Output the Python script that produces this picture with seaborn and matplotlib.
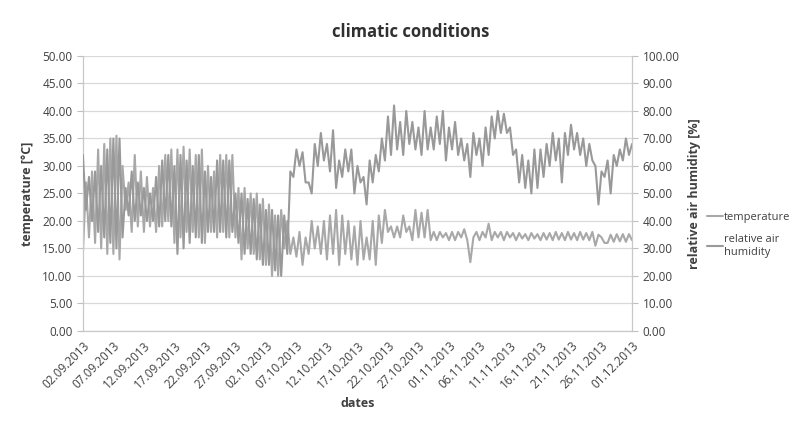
import numpy as np
import pandas as pd
import matplotlib
matplotlib.use('Agg')
import matplotlib.pyplot as plt
import seaborn as sns

# readings every 12 h, 02.09.2013 00:00 .. 01.12.2013 00:00 (night, day per row)
temperature = [
    14, 27, 17, 29, 16, 33, 15, 34, 14, 35, 14, 35.5, 13, 30, 22, 27, 18, 32, 19, 29,
    18, 28, 19, 26, 18, 30, 19, 32, 20, 33, 16, 33, 17, 33.5, 18, 33, 18, 32, 17, 33,
    16, 30, 18, 29, 17, 32, 18, 32, 17, 32, 17, 26, 13, 26, 15, 25, 14, 25, 13, 24,
    12, 23, 10, 21, 10, 22, 15, 20, 14, 17, 13.5, 18, 12, 17, 14, 20, 15, 19, 14, 20,
    13, 21, 14, 22, 12, 21, 14, 20, 13, 19, 12, 20, 13, 17, 13, 20, 12, 21, 16, 22,
    18, 19, 17, 19, 17, 21, 18, 19, 16.5, 22, 17, 21.5, 17, 22, 16.5, 18, 16.5, 18, 17, 17.8,
    16.5, 18, 16.5, 18, 17, 18.5, 16.5, 12.5, 17, 18, 16.5, 18, 17, 19.5, 16.5, 18, 17, 18, 16.5, 18,
    17, 17.8, 16.5, 17.8, 16.8, 17.6, 16.5, 17.8, 16.8, 17.6, 16.5, 17.8, 16.6, 17.8, 16.5, 18, 16.6, 17.8, 16.5, 18,
    16.6, 17.8, 16.5, 18, 16.6, 17.8, 16.5, 18, 15.5, 17.5, 17, 16, 16, 17.5, 16.2, 17.6, 16.3, 17.6, 16.2, 17.6,
    16.5,
]
humidity = [
    64, 44, 56, 40, 58, 36, 60, 34, 66, 32, 70, 30, 70, 34, 52, 42, 58, 40, 54, 42,
    52, 40, 50, 40, 56, 38, 62, 40, 64, 38, 60, 28, 64, 30, 62, 32, 60, 34, 64, 32,
    58, 36, 56, 36, 62, 36, 62, 34, 62, 36, 50, 32, 50, 28, 48, 28, 48, 26, 46, 24,
    44, 24, 44, 22, 42, 20, 42, 28, 58, 56, 66, 60, 65, 54, 54, 50, 68, 60, 72, 62,
    68, 58, 73, 52, 62, 56, 66, 58, 66, 50, 60, 54, 56, 46, 62, 54, 64, 58, 70, 62,
    78, 64, 82, 66, 76, 64, 80, 68, 76, 66, 74, 64, 80, 66, 74, 66, 78, 68, 80, 62,
    74, 66, 76, 64, 70, 62, 68, 56, 72, 64, 70, 60, 74, 64, 78, 70, 80, 72, 79, 72,
    74, 64, 66, 54, 64, 52, 62, 50, 66, 52, 66, 56, 68, 60, 72, 62, 70, 54, 72, 64,
    75, 66, 72, 64, 70, 60, 68, 62, 60, 46, 58, 56, 62, 50, 64, 60, 66, 62, 70, 64,
    68,
]
tick_labels = ['02.09.2013', '07.09.2013', '12.09.2013', '17.09.2013', '22.09.2013',
               '27.09.2013', '02.10.2013', '07.10.2013', '12.10.2013', '17.10.2013',
               '22.10.2013', '27.10.2013', '01.11.2013', '06.11.2013', '11.11.2013',
               '16.11.2013', '21.11.2013', '26.11.2013', '01.12.2013']

times = pd.date_range('2013-09-02', periods=len(temperature), freq='12h')
df = pd.DataFrame({'date': times, 'temperature': temperature, 'humidity': humidity})
ticks = pd.to_datetime(tick_labels, format='%d.%m.%Y')

sns.set_style('white')
plt.rcParams['font.family'] = ['Open Sans', 'DejaVu Sans']
txt = '#404040'

fig = plt.figure(figsize=(7.97, 4.21), dpi=100)
ax = fig.add_axes([0.104, 0.214, 0.689, 0.653])
ax2 = ax.twinx()

sns.lineplot(data=df, x='date', y='temperature', ax=ax, color='#a8a8a8', lw=1.5,
             label='temperature', legend=False)
sns.lineplot(data=df, x='date', y='humidity', ax=ax2, color='#999999', lw=1.5,
             label='relative air\nhumidity', legend=False)

ax.set_xlim(ticks[0], ticks[-1])
ax.set_ylim(0, 50)
ax2.set_ylim(0, 100)
ax.set_yticks(np.arange(0, 51, 5))
ax2.set_yticks(np.arange(0, 101, 10))
ax.set_yticklabels([f'{v:.2f}' for v in np.arange(0, 51, 5)])
ax2.set_yticklabels([f'{v:.2f}' for v in np.arange(0, 101, 10)])
ax.set_xticks(ticks)
ax.set_xticklabels(tick_labels, rotation=45, ha='right', rotation_mode='anchor')

ax.grid(axis='y', color='#d9d9d9', lw=0.9)
ax.set_axisbelow(True)
for a in (ax, ax2):
    for s in a.spines.values():
        s.set_visible(False)
    a.tick_params(colors=txt, labelsize=8.5, length=4, width=0.8)
    a.tick_params(axis='both', color='#bfbfbf')
ax.spines['left'].set_visible(True)
ax.spines['bottom'].set_visible(True)
ax2.spines['right'].set_visible(True)
for s in (ax.spines['left'], ax.spines['bottom'], ax2.spines['right']):
    s.set_color('#c8c8c8')
    s.set_linewidth(0.9)
ax.tick_params(axis='x', pad=2)

ax.set_xlabel('dates', fontsize=9, fontweight='bold', color=txt, labelpad=4)
ax.set_ylabel('temperature [°C]', fontsize=9, fontweight='bold', color=txt, labelpad=6)
ax2.set_ylabel('relative air humidity [%]', fontsize=9, fontweight='bold', color=txt, labelpad=6)
fig.suptitle('climatic conditions', x=0.515, y=0.945, fontsize=12, fontweight='bold', color='#303030')

h1, l1 = ax.get_legend_handles_labels()
h2, l2 = ax2.get_legend_handles_labels()
fig.legend(h1 + h2, l1 + l2, loc='upper left', bbox_to_anchor=(0.875, 0.52), frameon=False,
           fontsize=8, labelcolor=txt, handlelength=1.4, handletextpad=0.1, labelspacing=1.0)

fig.savefig('out.png', dpi=100)
